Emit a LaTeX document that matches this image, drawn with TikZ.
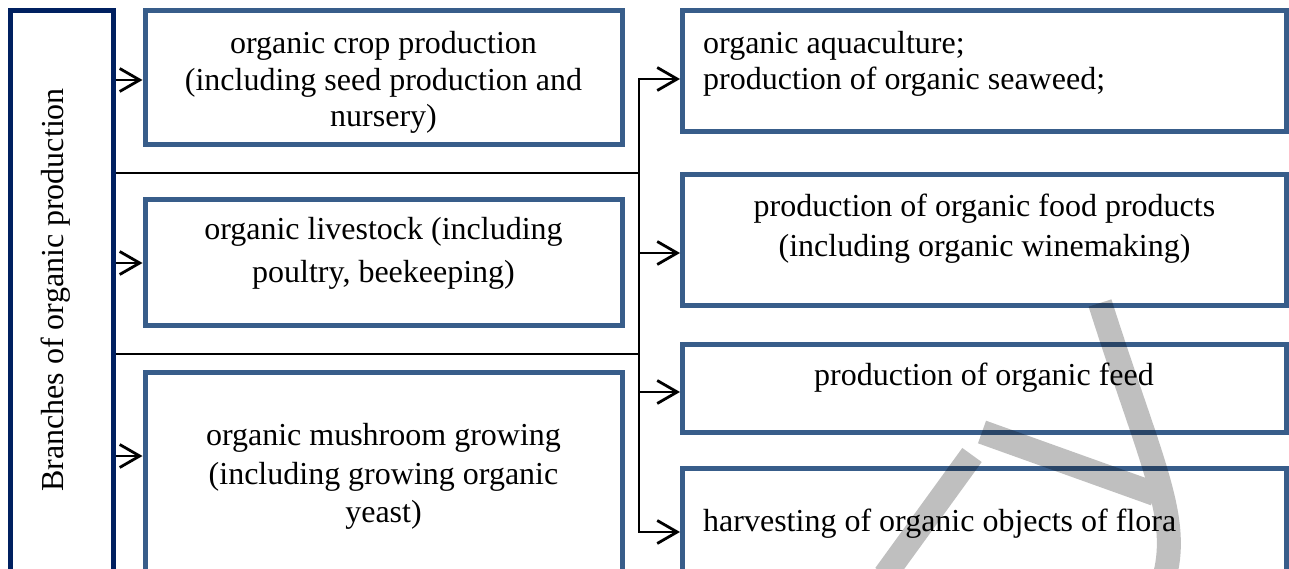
\documentclass[tikz,border=0pt]{standalone}
\usepackage{fontspec}
\setmainfont{Liberation Serif}
\usetikzlibrary{arrows.meta}
\definecolor{navy}{HTML}{002060}
\definecolor{boxblue}{HTML}{385D8A}
\begin{document}
\begin{tikzpicture}[x=1pt,y=-1pt,
  every node/.style={inner sep=0pt},
  leftbox/.style={draw=navy,line width=5pt,rectangle},
  bluebox/.style={draw=boxblue,line width=5pt,rectangle},
  txt/.style={font=\fontsize{32}{36.5}\selectfont,text=black},
  link/.style={line width=2pt,draw=black},
  arr/.style={line width=2.3pt,draw=black,-{Straight Barb[length=20pt,width=23pt,line width=2.8pt]}},
  wm/.style={line width=24pt,draw=black}
]
\useasboundingbox (0,0) rectangle (1289,569);
\fill[white] (0,0) rectangle (1289,569);
\clip (0,0) rectangle (1289,569);

% boxes
\node[leftbox,minimum width=102.5pt,minimum height=609pt] (L) at (61.75,315) {};
\node[txt,rotate=90,anchor=base west] (Lt) at (63.5,492) {Branches of organic production};

\node[bluebox,minimum width=477pt,minimum height=134.5pt] (A) at (383.5,77.75) {};
\node[bluebox,minimum width=477pt,minimum height=125.5pt] (B) at (383.5,262.25) {};
\node[bluebox,minimum width=477pt,minimum height=247.5pt] (C) at (383.5,496.25) {};
\node[bluebox,minimum width=604pt,minimum height=121.5pt] (R1) at (984.5,71.25) {};
\node[bluebox,minimum width=604pt,minimum height=131pt] (R2) at (984.5,240) {};
\node[bluebox,minimum width=604pt,minimum height=88pt] (R3) at (984.5,388.5) {};
\node[bluebox,minimum width=604pt,minimum height=151.5pt] (R4) at (984.5,544.25) {};

% texts
\node[txt,align=center] (At) at (383.5,82.7) {organic crop production\\(including seed production and\\nursery)};
\node[txt,align=center] (Bt) at (383.5,253.2) {organic livestock (including\\[6.2pt]poultry, beekeeping)};
\node[txt,align=center] (Ct) at (383.5,476.5) {organic mushroom growing\\[1.8pt](including growing organic\\[1.8pt]yeast)};
\node[txt,align=left,anchor=west] (R1t) at (703,63.8) {organic aquaculture;\\production of organic seaweed;};
\node[txt,align=center] (R2t) at (984.5,229) {production of organic food products\\[3.5pt](including organic winemaking)};
\node[txt,anchor=base] (R3t) at (984,385) {production of organic feed};
\node[txt,anchor=base west] (R4t) at (703,531.5) {harvesting of organic objects of flora};

% spine coordinates
\coordinate (sTop) at (639,79);
\coordinate (s2) at (639,253);
\coordinate (s3) at (639,392);
\coordinate (sBot) at (639,532);
\coordinate (j1) at (639,173);
\coordinate (j2) at (639,354);

% left arrows
\coordinate (la) at (0,80);
\coordinate (lb) at (0,263);
\coordinate (lc) at (0,456);
\draw[arr] (L.east |- la) -- (A.west |- la);
\draw[arr] (L.east |- lb) -- (B.west |- lb);
\draw[arr] (L.east |- lc) -- (C.west |- lc);

% connectors to spine
\draw[link] (L.east |- j1) -- (j1);
\draw[link] (L.east |- j2) -- (j2);

% spine and right arrows
\draw[arr] (j2) -- (sTop) -- (R1.west |- sTop);
\draw[arr] (j2) -- (sBot) -- (R4.west |- sBot);
\draw[arr] (s2) -- (R2.west |- s2);
\draw[arr] (s3) -- (R3.west |- s3);

% watermark
\begin{scope}[transparency group,opacity=0.25]
\draw[wm] (1100,303) .. controls (1150,460) and (1180,515) .. (1165,575);
\draw[wm] (982,432) -- (1155,494);
\draw[wm] (972,455) -- (885,575);
\end{scope}
\end{tikzpicture}
\end{document}
